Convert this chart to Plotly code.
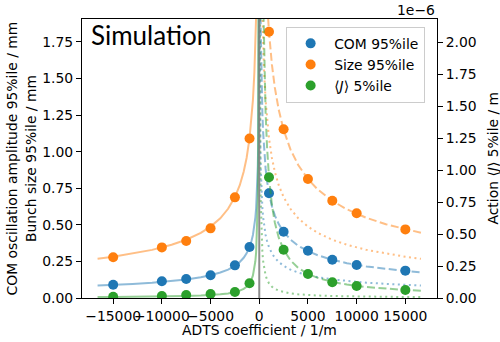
import plotly.graph_objects as go

# ---- measured points ----
ADTS_NEG = [-15000, -10000, -7500, -5000, -2500, -1000]
ADTS_POS = [1000, 2500, 5000, 7500, 10000, 15000]
COM_NEG = [0.091, 0.114, 0.130, 0.155, 0.223, 0.349]
COM_POS = [0.716, 0.453, 0.323, 0.262, 0.226, 0.187]
SIZE_NEG = [0.278, 0.346, 0.390, 0.476, 0.688, 1.09]
SIZE_POS = [1.82, 1.153, 0.813, 0.665, 0.579, 0.469]
J_NEG = [0.010, 0.016, 0.023, 0.031, 0.047, 0.115]   # units of 1e-6 m
J_POS = [0.945, 0.378, 0.188, 0.123, 0.094, 0.063]   # units of 1e-6 m

CURVE_ABS_X = [25, 35, 45, 60, 80, 110, 150, 200, 250, 320, 400, 500, 650, 800, 1000,
               1300, 1600, 2000, 2500, 3200, 4000, 5000, 6000, 7500, 9000, 11000,
               13000, 15000, 16600]
# negative-ADTS fit (solid), mirrored as dotted on the positive side
SIZE_FIT_NEG = [6.9, 5.83, 5.14, 4.45, 3.86, 3.29, 2.82, 2.44, 2.18, 1.93, 1.725, 1.543,
                1.353, 1.220, 1.091, 0.957, 0.863, 0.771, 0.690, 0.610, 0.545, 0.488,
                0.445, 0.398, 0.364, 0.329, 0.303, 0.282, 0.268]
COM_FIT_NEG = [2.2, 1.859, 1.640, 1.420, 1.230, 1.049, 0.898, 0.778, 0.696, 0.615, 0.550,
               0.492, 0.431, 0.389, 0.348, 0.305, 0.275, 0.246, 0.220, 0.194, 0.174,
               0.156, 0.142, 0.127, 0.116, 0.105, 0.0965, 0.0898, 0.0854]
J_FIT_NEG = [4.6, 3.29, 2.56, 1.917, 1.438, 1.045, 0.767, 0.575, 0.46, 0.359, 0.288,
             0.230, 0.177, 0.144, 0.115, 0.0885, 0.0719, 0.0575, 0.046, 0.0359, 0.0288,
             0.023, 0.0192, 0.0153, 0.0128, 0.0105, 0.0088, 0.0077, 0.0069]
# positive-ADTS fit (dashed)
SIZE_FIT_POS = [11.5, 9.72, 8.57, 7.42, 6.43, 5.48, 4.69, 4.07, 3.64, 3.21, 2.875, 2.571,
                2.255, 2.033, 1.818, 1.595, 1.4375, 1.286, 1.150, 1.016, 0.909, 0.813,
                0.742, 0.664, 0.606, 0.548, 0.504, 0.4695, 0.446]
COM_FIT_POS = [4.52, 3.82, 3.37, 2.92, 2.53, 2.155, 1.845, 1.598, 1.429, 1.263, 1.130,
               1.011, 0.886, 0.799, 0.715, 0.627, 0.565, 0.505, 0.452, 0.3995, 0.357,
               0.320, 0.292, 0.261, 0.238, 0.2155, 0.198, 0.1845, 0.1754]
J_FIT_POS = [37.8, 27.0, 21.0, 15.75, 11.8, 8.59, 6.3, 4.725, 3.78, 2.953, 2.3625, 1.89,
             1.454, 1.181, 0.945, 0.727, 0.591, 0.4725, 0.378, 0.295, 0.236, 0.189,
             0.1575, 0.126, 0.105, 0.0859, 0.0727, 0.063, 0.0569]

LEFT_TICKS = [0, 0.25, 0.5, 0.75, 1.0, 1.25, 1.5, 1.75]
RIGHT_TICKS = [0, 0.25, 0.5, 0.75, 1.0, 1.25, 1.5, 1.75, 2.0]
X_TICKS = [-15000, -10000, -5000, 0, 5000, 10000, 15000]
X_TICK_LABELS = ["−15000", "−10000", "−5000", "0", "5000", "10000", "15000"]

BLUE, ORANGE, GREEN = "#1f77b4", "#ff7f0e", "#2ca02c"
FAINT = {BLUE: "rgba(31,119,180,0.5)", ORANGE: "rgba(255,127,14,0.5)", GREEN: "rgba(44,160,44,0.5)"}
FONT = "DejaVu Sans"
FS = 13.9

neg_x = [-v for v in CURVE_ABS_X]
pos_x = list(CURVE_ABS_X)

fig = go.Figure()

def line(x, y, color, dash, axis):
    fig.add_trace(go.Scatter(x=x, y=y, mode="lines", yaxis=axis, showlegend=False,
                             hoverinfo="skip",
                             line=dict(color=FAINT[color], width=2, dash=dash)))

for fneg, fpos, col, ax in [(COM_FIT_NEG, COM_FIT_POS, BLUE, "y"),
                            (SIZE_FIT_NEG, SIZE_FIT_POS, ORANGE, "y"),
                            (J_FIT_NEG, J_FIT_POS, GREEN, "y2")]:
    line(neg_x, fneg, col, "solid", ax)
    line(pos_x, fpos, col, "8px,3.5px", ax)
    line(pos_x, fneg, col, "2px,3.5px", ax)

for name, yneg, ypos, col, ax in [("COM 95%ile", COM_NEG, COM_POS, BLUE, "y"),
                                  ("Size 95%ile", SIZE_NEG, SIZE_POS, ORANGE, "y"),
                                  ("⟨<i>J</i>⟩ 5%ile", J_NEG, J_POS, GREEN, "y2")]:
    fig.add_trace(go.Scatter(x=ADTS_NEG + ADTS_POS, y=yneg + ypos, mode="markers",
                             name=name, yaxis=ax,
                             marker=dict(color=col, size=10, line=dict(width=0))))

fig.add_shape(type="line", xref="x", yref="paper", x0=0, x1=0, y0=0, y1=1,
              line=dict(color="rgba(128,128,128,0.9)", width=2), layer="above")

axis_common = dict(showgrid=False, zeroline=False, showline=True, linecolor="black",
                   linewidth=1, ticks="outside", ticklen=5, tickwidth=1,
                   tickcolor="black", tickfont=dict(family=FONT, size=FS, color="black"))

fig.update_layout(
    width=500, height=342,
    margin=dict(l=82, r=63, t=19, b=44, pad=0),
    paper_bgcolor="white", plot_bgcolor="white",
    font=dict(family=FONT, size=FS, color="black"),
    xaxis=dict(range=[-18200, 18250], tickvals=X_TICKS, ticktext=X_TICK_LABELS,
               tickangle=0, mirror=True, automargin=False, **axis_common),
    yaxis=dict(range=[0, 1.907], tickvals=LEFT_TICKS, tickformat=".2f",
               automargin=False, **axis_common),
    yaxis2=dict(range=[0, 2.185], tickvals=RIGHT_TICKS, tickformat=".2f",
                overlaying="y", side="right", automargin=False, **axis_common),
    legend=dict(x=0.575, y=0.972, xanchor="left", yanchor="top", itemwidth=37,
                bgcolor="rgba(255,255,255,0.8)", bordercolor="#cccccc", borderwidth=1,
                font=dict(family=FONT, size=FS)),
    annotations=[
        dict(text="Simulation", xref="paper", yref="paper", x=0.02, y=0.942,
             xanchor="left", yanchor="middle", showarrow=False,
             font=dict(family="Lato", size=26, color="black")),
        dict(text="1e−6", xref="paper", yref="paper", x=1.0, y=1.034,
             xanchor="right", yanchor="middle", showarrow=False,
             font=dict(family=FONT, size=FS)),
        dict(text="COM oscillation amplitude 95%ile / mm<br>Bunch size 95%ile / mm",
             xref="paper", yref="paper", x=-0.172, y=0.5, textangle=-90,
             xanchor="center", yanchor="middle", showarrow=False,
             font=dict(family=FONT, size=FS)),
        dict(text="Action ⟨<i>J</i>⟩ 5%ile / m", xref="paper", yref="paper",
             x=1.155, y=0.5, textangle=-90, xanchor="center", yanchor="middle",
             showarrow=False, font=dict(family=FONT, size=FS)),
        dict(text="ADTS coefficient / 1/m", xref="paper", yref="paper", x=0.5,
             y=-0.116, xanchor="center", yanchor="middle", showarrow=False,
             font=dict(family=FONT, size=FS)),
    ],
)

fig.write_html("out.html", config={"displayModeBar": False},
               post_script="document.body.style.margin='0px';document.body.style.overflow='hidden';")
